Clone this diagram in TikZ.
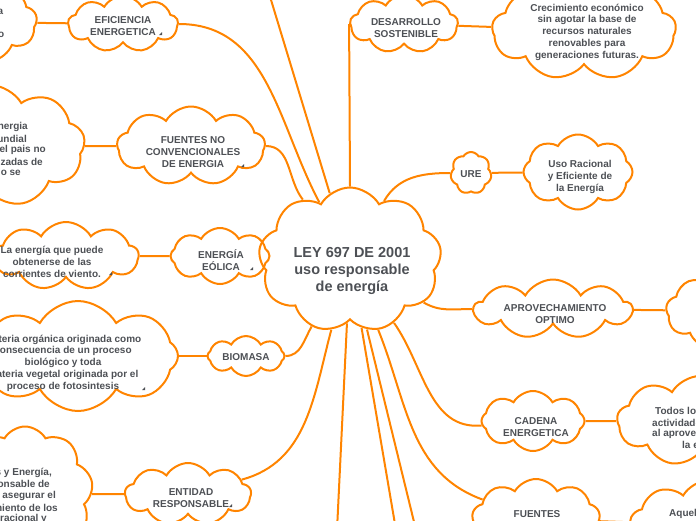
\documentclass[tikz,border=0pt]{standalone}
\usepackage{fontspec}
\setmainfont{Liberation Sans}
\usetikzlibrary{shapes.symbols}
\definecolor{orng}{HTML}{FF8400}
\definecolor{txt}{HTML}{4D5055}
\tikzset{
  cl/.style={cloud, cloud puffs=#1, cloud puff arc=120, cloud ignores aspect, draw=orng, line width=2pt, inner sep=0pt},
  cl/.default=9,
  tx/.style={text=txt, font=\bfseries\fontsize{10}{11.7}\selectfont, align=center, inner sep=0pt},
  bigtx/.style={text=txt, font=\bfseries\fontsize{14.5}{17}\selectfont, align=center, inner sep=0pt},
  conn/.style={draw=orng, line width=2pt},
  mk/.style={fill=txt}
}
\begin{document}
\begin{tikzpicture}[x=1pt,y=-1pt]
\useasboundingbox (0,0) rectangle (696,520);
\clip (0,0) rectangle (696,520);

% clouds
\node[cl, minimum width=134, minimum height=82] (tl) at (-30,22) {};
\node[cl, minimum width=110, minimum height=56] (efic) at (123,24) {};
\node[cl, minimum width=190, minimum height=122] (fncl) at (-10,146) {};
\node[cl, minimum width=148, minimum height=79] (fnc) at (191,146) {};
\node[cl, minimum width=145, minimum height=68] (eoll) at (66,256) {};
\node[cl=8, minimum width=99, minimum height=56] (eol) at (220,256) {};
\node[cl=8, minimum width=200, minimum height=110] (biol) at (78,356) {};
\node[cl=8, minimum width=77, minimum height=40] (bio) at (246,356) {};
\node[cl, minimum width=136, minimum height=135] (entl) at (25,494) {};
\node[cl, minimum width=126, minimum height=62] (ent) at (188,494) {};
\node[cl, minimum width=183, minimum height=145] (ctr) at (350,260) {};
\node[cl, minimum width=108, minimum height=58] (des) at (404,24) {};
\node[cl, minimum width=184, minimum height=100] (desr) at (584,30) {};
\node[cl=7, minimum width=41, minimum height=42] (ure) at (471,173) {};
\node[cl=8, minimum width=109, minimum height=75] (urer) at (578,172) {};
\node[cl, minimum width=158, minimum height=59] (apr) at (553,309) {};
\node[cl, minimum width=128, minimum height=78] (aprr) at (730,311) {};
\node[cl=8, minimum width=103, minimum height=60] (cad) at (533,421) {};
\node[cl, minimum width=166, minimum height=90] (cadr) at (700,421) {};
\node[cl, minimum width=128, minimum height=80] (fue) at (536,519) {};
\node[cl, minimum width=160, minimum height=90] (fuer) at (710,525) {};

% texts
\node[tx, anchor=east] (t1) at (3.5,12) {a};
\node[tx, anchor=east] (t2) at (4.5,35) {o};
\node[tx] (tefic) at (123,26) {EFICIENCIA\\ENERGETICA};
\node[tx, anchor=east] (f1) at (28,127) {energia};
\node[tx, anchor=east] (f2) at (27,139) {undial};
\node[tx, anchor=east] (f3) at (46,150) {el pais no};
\node[tx, anchor=east] (f4) at (43,162) {izadas de};
\node[tx, anchor=east] (f5) at (21,173) {o se};
\node[tx] (tfnc) at (193,152) {FUENTES NO\\CONVENCIONALES\\DE ENERGIA};
\node[tx] (teoll) at (52,262) {La energía que puede\\obtenerse de las\\corrientes de viento.};
\node[tx] (teol) at (221,260) {ENERGÍA\\EÓLICA};
\node[tx] (tbiol) at (63,363) {Materia orgánica originada como\\consecuencia de un proceso\\biológico y toda\\materia vegetal originada por el\\proceso de fotosintesis};
\node[tx] (tbio) at (246,357) {BIOMASA};
\node[tx, anchor=east] (e1) at (52,473) {s y Energía,};
\node[tx, anchor=east] (e2) at (50,484) {onsable de};
\node[tx, anchor=east] (e3) at (56,496) {asegurar el};
\node[tx, anchor=east] (e4) at (58,508) {miento de los};
\node[tx, anchor=east] (e5) at (47,519) {racional y};
\node[tx] (tent) at (191,498) {ENTIDAD\\RESPONSABLE};
\node[bigtx] (tctr) at (352,271) {LEY 697 DE 2001\\uso responsable\\de energía};
\node[tx] (tdes) at (406,28) {DESARROLLO\\SOSTENIBLE};
\node[tx] (tdesr) at (587,32) {Crecimiento económico\\sin agotar la base de\\recursos naturales\\renovables para\\generaciones futuras.};
\node[tx] (ture) at (471,174) {URE};
\node[tx] (turer) at (580,177) {Uso Racional\\y Eficiente de\\la Energía};
\node[tx] (tapr) at (555,314) {APROVECHAMIENTO\\OPTIMO};
\node[tx] (tcad) at (536,427) {CADENA\\ENERGETICA};
\node[tx, anchor=west] (c1) at (655,411) {Todos lo};
\node[tx, anchor=west] (c2) at (652,423) {actividade};
\node[tx, anchor=west] (c3) at (652,434) {al aprove};
\node[tx, anchor=west] (c4) at (682,445) {la e};
\node[tx] (tfue) at (537,514) {FUENTES};
\node[tx, anchor=west] (tfuer) at (669,514) {Aquel};

% markers
\fill[mk] (159,35) -- (162,35) -- (162,32) -- cycle;
\fill[mk] (241,167) -- (244,167) -- (244,164) -- cycle;
\fill[mk] (250,270) -- (253,270) -- (253,267) -- cycle;
\fill[mk] (109,275) -- (112,275) -- (112,272) -- cycle;
\fill[mk] (142,390) -- (145,390) -- (145,387) -- cycle;
\fill[mk] (229,507) -- (232,507) -- (232,504) -- cycle;

% connectors
\coordinate (topn) at (268,-10);
\coordinate (b1) at (337,530);
\coordinate (b2) at (396,530);
\coordinate (b3) at (416,530);
\draw[conn] (tl) -- (efic);
\draw[conn] (efic) to[out=0,in=118] (ctr);
\draw[conn] (topn) -- (ctr);
\draw[conn] (des.west) -- (ctr.north);
\draw[conn] (fncl) -- (fnc);
\draw[conn] (fnc) to[out=0,in=128] (ctr);
\draw[conn] (eoll) -- (eol);
\draw[conn] (biol) -- (bio);
\draw[conn] (bio) to[out=0,in=240] (ctr);
\draw[conn] (entl) -- (ent);
\draw[conn] (ent) to[out=15,in=255] (ctr);
\draw[conn] (ctr) -- (b1);
\draw[conn] (ctr) -- (b2);
\draw[conn] (ctr) -- (b3);
\draw[conn] (ctr) to[out=-68,in=160] (fue);
\draw[conn] (ctr) to[out=-55,in=185] (cad);
\draw[conn] (ctr) to[out=60,in=180] (ure);
\draw[conn] (ctr) to[out=-30,in=180] (apr);
\draw[conn] (des) -- (desr);
\draw[conn] (ure) -- (urer);
\draw[conn] (apr) -- (aprr);
\draw[conn] (cad) -- (cadr);
\draw[conn] (fue) -- (fuer);
\end{tikzpicture}
\end{document}
